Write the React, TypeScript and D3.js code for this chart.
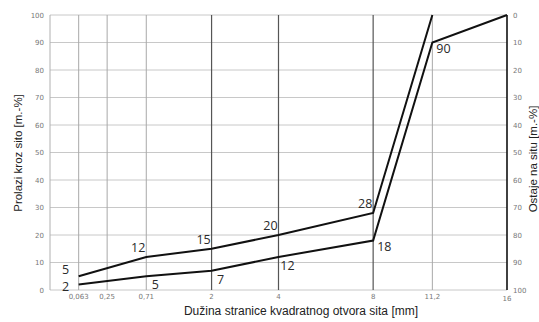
import React from "react";
import * as d3 from "d3";

// Sieve openings [mm] and passing percentages for the two grading limits
const sieves = [0.063, 0.25, 0.71, 2, 4, 8, 11.2, 16];
const sieveLabels = ["0,063", "0,25", "0,71", "2", "4", "8", "11,2", "16"];
const upperSieves = [0.063, 0.71, 2, 4, 8, 11.2];
const upperPassing = [5, 12, 15, 20, 28, 100];
const lowerSieves = [0.063, 0.71, 2, 4, 8, 11.2, 16];
const lowerPassing = [2, 5, 7, 12, 18, 90, 100];
const percentTicks = [0, 10, 20, 30, 40, 50, 60, 70, 80, 90, 100];

// Which curve points carry a value label, and where it sits relative to the point
const upperLabelPlacement = ["leftAbove", "aboveLeft", "aboveLeft", "aboveLeft", "aboveLeft", "none"];
const lowerLabelPlacement = ["leftBelow", "belowRight", "belowRight", "belowRight", "right", "right", "none"];

const W = 539;
const H = 322;

const x = d3.scaleSqrt().domain([0, 16]).range([50, 507]);
const y = d3.scaleLinear().domain([0, 100]).range([290, 15]);
const yRight = d3.scaleLinear().domain([0, 100]).range([15, 290]);

const line = d3
  .line<[number, number]>()
  .x((d) => x(d[0]))
  .y((d) => y(d[1]));

const strongSieves = new Set([2, 4, 8]);

function labelOffset(p: string): [number, number, string] {
  switch (p) {
    case "leftAbove":
      return [-13, -2, "middle"];
    case "leftBelow":
      return [-13, 6, "middle"];
    case "aboveLeft":
      return [-8, -5, "middle"];
    case "belowRight":
      return [9, 13, "middle"];
    case "right":
      return [4, 10, "start"];
    default:
      return [0, 0, "middle"];
  }
}

export default function App() {
  const upper: [number, number][] = upperSieves.map((s, i) => [s, upperPassing[i]]);
  const lower: [number, number][] = lowerSieves.map((s, i) => [s, lowerPassing[i]]);

  const labels = (pts: [number, number][], place: string[]) =>
    pts.map((p, i) => {
      if (place[i] === "none") return null;
      const [dx, dy, anchor] = labelOffset(place[i]);
      return (
        <text
          key={i}
          x={x(p[0]) + dx}
          y={y(p[1]) + dy}
          textAnchor={anchor}
          fontSize={12.5}
          fill="#2a2a2a"
          fontFamily="'Open Sans', sans-serif"
        >
          {p[1]}
        </text>
      );
    });

  return (
    <svg
      width={W}
      height={H}
      style={{ position: "absolute", left: 0, top: 0, background: "#fff" }}
    >
      {/* horizontal grid */}
      {percentTicks.map((t) => (
        <line
          key={"h" + t}
          x1={x(0)}
          x2={x(16)}
          y1={y(t)}
          y2={y(t)}
          stroke="#c8c8c8"
          strokeWidth={1}
        />
      ))}
      {/* left axis */}
      <line x1={x(0)} x2={x(0)} y1={y(0)} y2={y(100)} stroke="#b0b0b0" strokeWidth={1} />
      {/* vertical sieve lines */}
      {sieves.map((s) => (
        <line
          key={"v" + s}
          x1={x(s)}
          x2={x(s)}
          y1={y(0)}
          y2={y(100)}
          stroke={s === 16 ? "#111" : strongSieves.has(s) ? "#555" : "#a8a8a8"}
          strokeWidth={s === 16 ? 1.6 : strongSieves.has(s) ? 1.2 : 1}
        />
      ))}

      {/* left tick labels */}
      {percentTicks.map((t) => (
        <text
          key={"lt" + t}
          x={44}
          y={y(t) + 2.5}
          textAnchor="end"
          fontSize={7}
          fill="#777"
          fontFamily="'DejaVu Sans', sans-serif"
        >
          {t}
        </text>
      ))}
      {/* right tick labels */}
      {percentTicks.map((t) => (
        <text
          key={"rt" + t}
          x={513}
          y={yRight(t) + 2.5}
          textAnchor="start"
          fontSize={7}
          fill="#777"
          fontFamily="'DejaVu Sans', sans-serif"
        >
          {t}
        </text>
      ))}
      {/* sieve labels */}
      {sieves.map((s, i) => (
        <text
          key={"bt" + s}
          x={x(s)}
          y={s === 16 ? 301 : 299}
          textAnchor="middle"
          fontSize={7}
          fill="#777"
          fontFamily="'DejaVu Sans', sans-serif"
        >
          {sieveLabels[i]}
        </text>
      ))}

      {/* grading curves */}
      <path d={line(upper) || ""} fill="none" stroke="#111" strokeWidth={2} />
      <path d={line(lower) || ""} fill="none" stroke="#111" strokeWidth={2} />

      {labels(upper, upperLabelPlacement)}
      {labels(lower, lowerLabelPlacement)}

      {/* axis titles */}
      <text
        transform="translate(22,153) rotate(-90)"
        textAnchor="middle"
        fontSize={11.5}
        fill="#222"
        fontFamily="'Liberation Sans', Arial, sans-serif"
      >
        Prolazi kroz sito [m.-%]
      </text>
      <text
        transform="translate(537,159) rotate(-90)"
        textAnchor="middle"
        fontSize={11.5}
        fill="#222"
        fontFamily="'Liberation Sans', Arial, sans-serif"
      >
        Ostaje na situ [m.-%]
      </text>
      <text
        x={301}
        y={315}
        textAnchor="middle"
        fontSize={12}
        fill="#222"
        fontFamily="'Liberation Sans', Arial, sans-serif"
      >
        Dužina stranice kvadratnog otvora sita [mm]
      </text>
    </svg>
  );
}
